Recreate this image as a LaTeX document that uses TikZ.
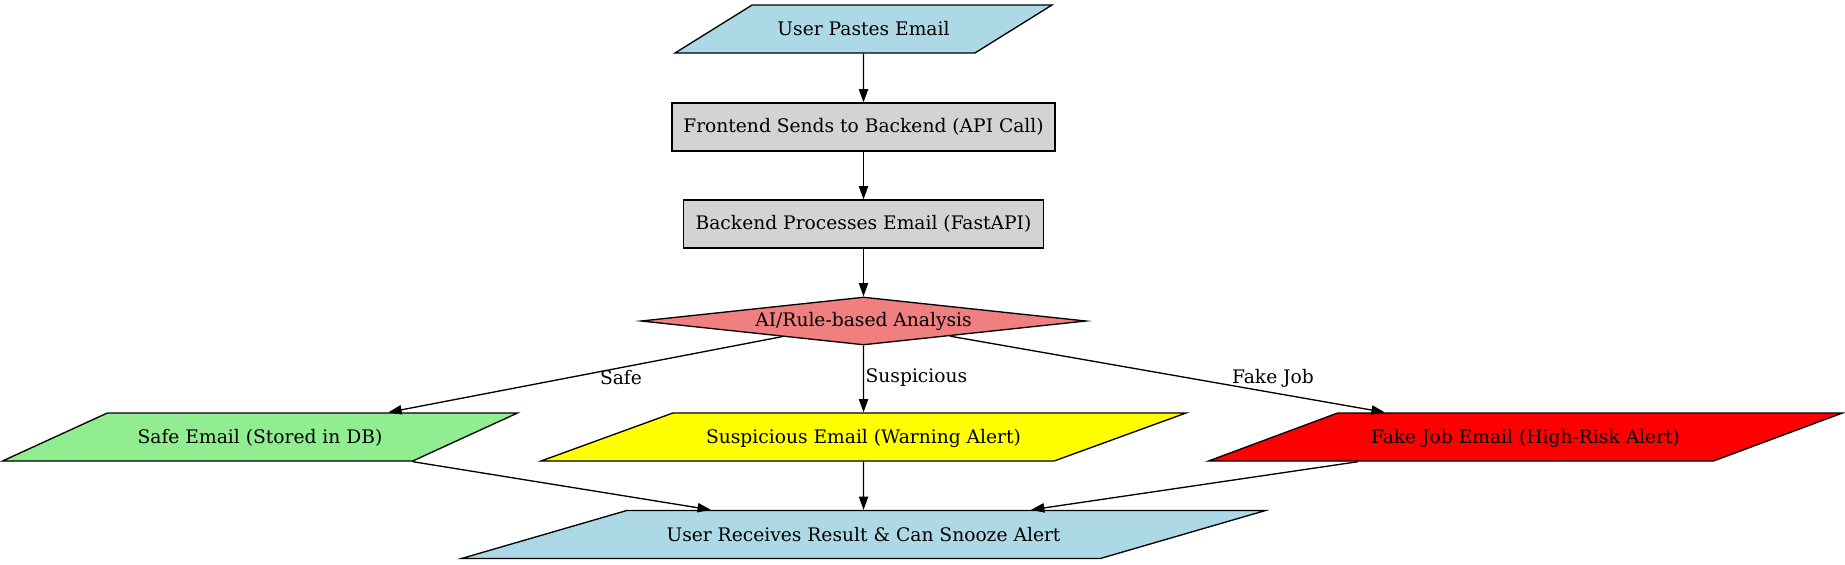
\documentclass[tikz,border=0pt]{standalone}
\usepackage{fontspec}
\setmainfont{DejaVu Serif}
\usepackage{xcolor}
\usetikzlibrary{shapes.geometric,arrows.meta}

\definecolor{lightblue}{HTML}{ADD8E6}
\definecolor{lightgrey}{HTML}{D3D3D3}
\definecolor{lightcoral}{HTML}{F08080}
\definecolor{lightgreen}{HTML}{90EE90}
\definecolor{warnyellow}{HTML}{FFFF00}
\definecolor{alertred}{HTML}{FF0000}

\begin{document}
\begin{tikzpicture}[x=0.75bp,y=-0.75bp,line width=1bp,
  >={Triangle[length=10bp,width=7bp]},
  every node/.style={font=\fontsize{14bp}{17bp}\selectfont},
  box/.style={rectangle,draw,fill=lightgrey,inner sep=0pt,minimum height=36bp},
  para/.style={trapezium,trapezium stretches body=true,draw,inner xsep=0pt,inner ysep=0pt,text height=23bp,text depth=13bp},
  check/.style={diamond,draw,fill=lightcoral,inner sep=0pt,aspect=9.27,minimum width=333.75bp,minimum height=36bp},
  lab/.style={inner sep=0pt}]
\useasboundingbox (0,0) rectangle (1845,564);
%input and backend
\node[para,fill=lightblue,trapezium left angle=31.9,trapezium right angle=148.1,minimum width=282.75bp] (paste) at (863.5,29) {User Pastes Email};
\node[box,minimum width=287.25bp] (front) at (863.5,127) {Frontend Sends to Backend (API Call)};
\node[box,minimum width=270bp] (back) at (863.5,224) {Backend Processes Email (FastAPI)};
%decision
\node[check] (check) at (863.5,321) {AI/Rule-based Analysis};
%outcomes
\node[para,fill=lightgreen,trapezium left angle=24.6,trapezium right angle=155.4,minimum width=386.25bp] (safe) at (260,437) {Safe Email (Stored in DB)};
\node[para,fill=warnyellow,trapezium left angle=20,trapezium right angle=160,minimum width=483.75bp] (susp) at (863.5,437) {Suspicious Email (Warning Alert)};
\node[para,fill=alertred,trapezium left angle=20.4,trapezium right angle=159.6,minimum width=475.5bp] (fake) at (1525.5,437) {Fake Job Email (High-Risk Alert)};
%result
\node[para,fill=lightblue,trapezium left angle=16.2,trapezium right angle=163.8,minimum width=603bp] (result) at (863.5,534.5) {User Receives Result \& Can Snooze Alert};
%edges
\draw[->] (paste) -- (front);
\draw[->] (front) -- (back);
\draw[->] (back) -- (check);
\draw[->] (check) -- (safe);
\draw[->] (check) -- (susp);
\draw[->] (check) -- (fake);
\draw[->] (safe) -- (result);
\draw[->] (susp) -- (result);
\draw[->] (fake) -- (result);
%edge labels
\node[lab] (lsafe) at (621,378) {Safe};
\node[lab,anchor=west] (lsusp) at (865,378) {Suspicious};
\node[lab] (lfake) at (1273,378) {Fake Job};
\end{tikzpicture}
\end{document}
